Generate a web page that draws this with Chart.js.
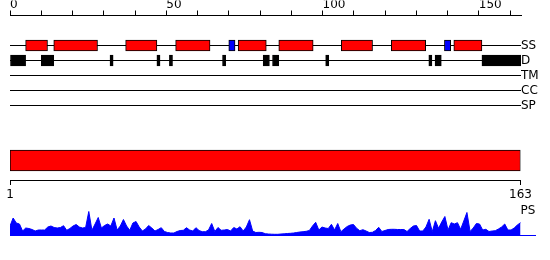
<!DOCTYPE html>
<html>
<head>
<meta charset="utf-8">
<script src="https://cdn.jsdelivr.net/npm/chart.js@4.4.1/dist/chart.umd.min.js"></script>
<style>
  body { margin: 0; background: #fff; }
  #wrap { position: relative; width: 550px; height: 260px; overflow: hidden; background: #fff; }
  #wrap canvas { position: absolute; left: 0; }
</style>
</head>
<body>
<div id="wrap">
  <canvas id="domainChart" width="550" height="90" style="top:120px"></canvas>
  <canvas id="psChart" width="550" height="60" style="top:200px"></canvas>
  <canvas id="trackChart" width="550" height="128" style="top:0px"></canvas>
</div>
<script>
// sequence
const seqStart = 1;
const seqEnd = 163;
const topAxisMax = 163.5;
const rulerTicks = [1, 163];

// feature tracks
const trackRows = ['SS', 'D', 'TM', 'CC', 'SP'];
const helixSegments = [[5, 12], [14, 28], [37, 47], [53, 64], [73, 82], [86, 97], [106, 116], [122, 133], [142, 151]];
const strandSegments = [[70, 72], [139, 141]];
const disorderSegments = [[0, 5], [10, 14], [32, 33], [47, 48], [51, 52], [68, 69], [81, 83], [84, 86], [101, 102], [134, 135], [136, 138], [151, 163.5]];

// domain bar
const domainNames = [''];
const domainSpans = [[1, 163]];

// PS profile, one value per residue
const psName = 'PS';
const psValues = [
  9, 17, 12, 11, 4, 7, 6.5, 5.5, 4, 5,
  5, 5, 8, 9, 7.5, 7, 7.5, 9.3, 4.7, 6.5,
  9, 10.5, 8, 7, 7.5, 23.5, 4.7, 11, 17.5, 7,
  9.5, 11, 9, 17, 5, 9, 15.5, 9, 4.7, 12,
  13.5, 8, 4, 6, 9.5, 7, 4, 5.5, 7.3, 3.5,
  2.5, 2, 2, 3.5, 4.5, 4.7, 7.3, 5, 4, 7.3,
  4.5, 3.3, 3.3, 5, 11.5, 3.5, 7.5, 4.7, 5, 5.5,
  4, 7.5, 6, 8.3, 4, 8, 15.3, 4, 2.5, 2.7,
  2.5, 1.3, 1, 0.8, 0.7, 0.7, 1, 1.2, 1.5, 1.7,
  2, 2.5, 3, 3.3, 3.7, 4.5, 9, 12.7, 5, 8,
  7, 6.5, 10.7, 5, 11.5, 3.3, 6, 8.5, 10, 10.5,
  6.7, 4.3, 5.3, 4, 2.5, 2.7, 4.5, 7.7, 3.5, 4.5,
  5.5, 5.7, 5.7, 5.5, 5.5, 5.5, 3.5, 6.5, 9, 9.5,
  4, 4, 8, 15.7, 3.3, 14.3, 6.7, 13, 18.5, 5,
  12.3, 11, 12.3, 5.7, 14, 22.5, 3.5, 7, 11.5, 11,
  5, 5.7, 3.5, 4, 4.3, 6, 8, 11, 5, 5,
  7, 10, 12.3
];
const psMax = 24;
const psAxisMax = 167.6;

Chart.defaults.font.family = 'DejaVu Sans';
Chart.defaults.font.size = 12;
Chart.defaults.color = '#000';
Chart.defaults.animation = false;
Chart.defaults.plugins.legend.display = false;
Chart.defaults.plugins.tooltip.enabled = false;

const rowOffset = 2; // empty rows between the ruler and the first track
const rowValue = name => trackRows.indexOf(name) + rowOffset;
const segments = (list, row) => list.map(([s, e]) => ({ x: [s, e], y: rowValue(row) }));

const boxStyle = { grouped: false, barThickness: 11, borderWidth: 1, borderColor: '#000', borderSkipped: false };

new Chart(document.getElementById('trackChart'), {
    type: 'bar',
    data: {
        datasets: [
            { ...boxStyle, data: segments(helixSegments, 'SS'), backgroundColor: '#ff0000' },
            { ...boxStyle, data: segments(strandSegments, 'SS'), backgroundColor: '#0000ff' },
            { ...boxStyle, data: segments(disorderSegments, 'D'), backgroundColor: '#000000' }
        ]
    },
    options: {
        indexAxis: 'y',
        responsive: false,
        devicePixelRatio: 1,
        layout: { padding: { left: 10, top: 0.5, right: 0, bottom: 0 } },
        scales: {
            x: {
                type: 'linear',
                position: 'top',
                min: 0,
                max: topAxisMax,
                afterFit: s => { s.height = 15; },
                border: { color: '#000' },
                grid: { drawOnChartArea: false, tickLength: 5, color: '#000' },
                ticks: {
                    stepSize: 10,
                    includeBounds: false,
                    autoSkip: false,
                    maxRotation: 0,
                    align: 'start',
                    padding: -2,
                    callback: v => v % 50 === 0 ? String(v) : ''
                }
            },
            y: {
                type: 'linear',
                position: 'right',
                reverse: true,
                offset: false,
                min: 0,
                max: 7,
                afterFit: s => { s.width = 29; },
                border: { display: false },
                grid: {
                    offset: false,
                    drawTicks: false,
                    color: c => (c.tick && trackRows[c.tick.value - rowOffset]) ? '#000' : 'rgba(0,0,0,0)'
                },
                ticks: {
                    stepSize: 1,
                    autoSkip: false,
                    padding: 0,
                    font: { lineHeight: 1.25 },
                    callback: v => trackRows[v - rowOffset] || ''
                }
            }
        }
    }
});

new Chart(document.getElementById('domainChart'), {
    type: 'bar',
    data: {
        labels: domainNames,
        datasets: [{
            data: domainSpans,
            backgroundColor: '#ff0000',
            borderColor: '#000',
            borderWidth: 1,
            borderSkipped: false,
            barThickness: 21
        }]
    },
    options: {
        indexAxis: 'y',
        responsive: false,
        devicePixelRatio: 1,
        layout: { padding: { left: 10, top: 21, right: 29.5, bottom: 0 } },
        scales: {
            x: {
                type: 'linear',
                position: 'bottom',
                min: seqStart,
                max: seqEnd,
                afterBuildTicks: s => { s.ticks = rulerTicks.map(v => ({ value: v })); },
                afterFit: s => { s.height = 30; },
                border: { color: '#000' },
                grid: { drawOnChartArea: false, tickLength: 5, color: '#000' },
                ticks: { autoSkip: false, maxRotation: 0, padding: 2.5 }
            },
            y: { display: false }
        }
    }
});

const psLabel = {
    id: 'psLabel',
    afterDraw(chart) {
        const { ctx, chartArea, scales } = chart;
        ctx.save();
        ctx.font = '12px "DejaVu Sans"';
        ctx.fillStyle = '#000';
        ctx.textAlign = 'left';
        ctx.textBaseline = 'middle';
        ctx.fillText(psName, scales.x.getPixelForValue(seqEnd), chartArea.top);
        ctx.restore();
    }
};

new Chart(document.getElementById('psChart'), {
    type: 'line',
    data: {
        datasets: [{
            data: psValues.map((v, i) => ({ x: seqStart + i, y: v })),
            fill: 'origin',
            backgroundColor: '#0000ff',
            borderColor: '#0000ff',
            borderWidth: 1,
            pointRadius: 0,
            tension: 0
        }]
    },
    options: {
        responsive: false,
        devicePixelRatio: 1,
        layout: { padding: { left: 10, top: 11, right: 15, bottom: 25 } },
        scales: {
            x: {
                type: 'linear',
                min: seqStart,
                max: psAxisMax,
                afterFit: s => { s.height = 0; },
                border: { color: '#0000ff' },
                grid: { display: false },
                ticks: { display: false }
            },
            y: { display: false, min: 0, max: psMax }
        }
    },
    plugins: [psLabel]
});
</script>
</body>
</html>
